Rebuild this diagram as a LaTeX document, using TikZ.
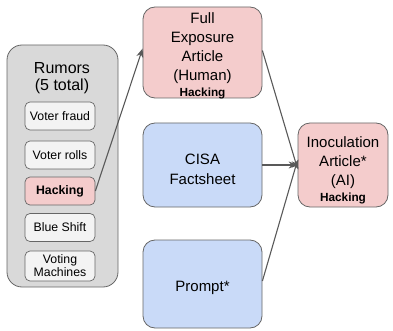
\documentclass[tikz,border=0pt]{standalone}
\usepackage{fontspec}
\setmainfont{Liberation Sans}
\usetikzlibrary{arrows.meta}
\definecolor{pinkf}{HTML}{F4CCCC}
\definecolor{bluef}{HTML}{C9DAF8}
\definecolor{grayf}{HTML}{D9D9D9}
\definecolor{lightf}{HTML}{F3F3F3}
\definecolor{edge}{HTML}{666666}
\definecolor{arr}{HTML}{595959}
\tikzset{
  bigbox/.style={draw=edge, line width=0.8pt, rounded corners=12pt, minimum width=119pt, inner sep=0pt},
  txt/.style={align=center, inner sep=0pt, font=\fontsize{15}{19}\selectfont},
  smallbox/.style={draw=edge, line width=0.7pt, rounded corners=5pt, fill=lightf, minimum width=70pt, minimum height=28pt, align=center, inner sep=1pt, font=\fontsize{12.3}{13}\selectfont},
  conn/.style={draw=arr, line width=1.1pt, -{Stealth[length=9pt,width=7pt]}}
}
\newcommand{\hkword}{{\fontsize{11.8}{13}\selectfont\bfseries Hacking}}
\begin{document}
\begin{tikzpicture}[x=1pt,y=-1pt]
\useasboundingbox (0,0) rectangle (393,331);
\node[draw=edge, line width=0.8pt, rounded corners=15pt, fill=grayf, minimum width=111pt, minimum height=242pt] (outer) at (62.5,166) {};
\node[align=center, font=\fontsize{16}{17.5}\selectfont] (rtitle) at (62,78) {Rumors\\(5 total)};
\node[smallbox] (vf) at (60,116) {Voter fraud};
\node[smallbox] (vr) at (60,155) {Voter rolls};
\node[smallbox, fill=pinkf, font=\fontsize{12.3}{13}\selectfont\bfseries] (hack) at (60,191) {Hacking};
\node[smallbox] (bs) at (60,227.5) {Blue Shift};
\node[smallbox, minimum height=30pt] (vm) at (60,266) {Voting\\Machines};
\node[bigbox, fill=pinkf, minimum height=91pt] (full) at (202.5,52.5) {};
\node[txt] (fullt) at (202.5,55.5) {Full\\Exposure\\Article\\(Human)\\[-3pt]\hkword};
\node[bigbox, fill=bluef, minimum height=84pt] (cisa) at (202.5,165) {};
\node[txt, font=\fontsize{15}{20}\selectfont] (cisat) at (202.5,169) {CISA\\Factsheet};
\node[bigbox, fill=bluef, minimum height=88pt] (prompt) at (202.5,284) {};
\node[txt] (promptt) at (202.5,288) {Prompt*};
\node[bigbox, fill=pinkf, minimum width=90pt, minimum height=84pt] (inoc) at (343,165) {};
\node[txt] (inoct) at (343,170) {Inoculation\\Article*\\(AI)\\[-3pt]\hkword};
\draw[conn] (hack.east) -- ([yshift=4pt]full.west);
\draw[conn] ([yshift=2pt]full.east) -- ([yshift=-4pt]inoc.west);
\draw[conn] (cisa.east) -- (inoc.west);
\draw[conn] ([yshift=3pt]prompt.east) -- ([yshift=5pt]inoc.west);
\end{tikzpicture}
\end{document}
